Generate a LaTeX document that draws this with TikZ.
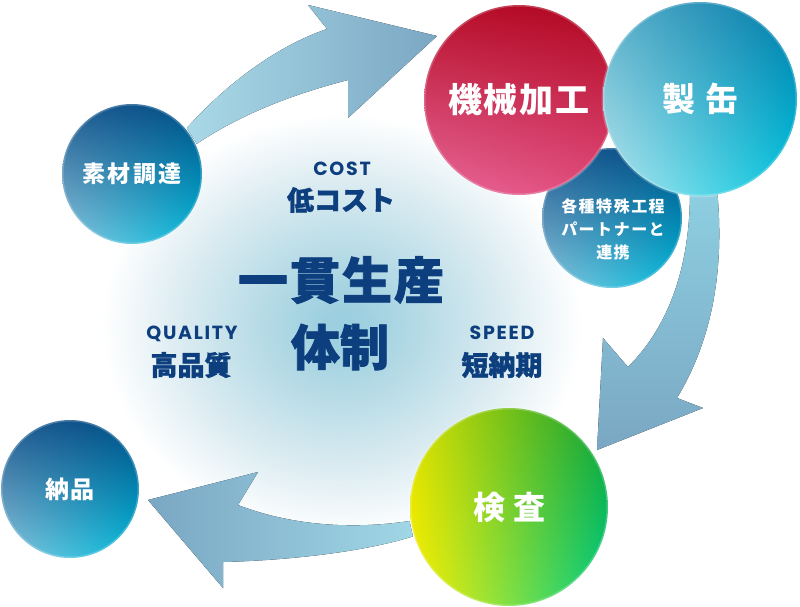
\documentclass[tikz,border=0pt]{standalone}
\usepackage{fontspec}
\newfontfamily\cjk{Noto Sans CJK JP}
\newfontfamily\cjkh{Noto Sans CJK JP}[FakeBold=1.5]
\newfontfamily\pop{Poppins}[LetterSpace=9]
\usetikzlibrary{shadings}
\definecolor{navy}{HTML}{0D3F7F}
\definecolor{glowA}{HTML}{9CCFDF}
\definecolor{glowB}{HTML}{B6DBE6}
\definecolor{glowC}{HTML}{DAEBF1}
\pgfdeclareradialshading{glow}{\pgfpoint{0bp}{0bp}}{color(0bp)=(glowA); color(0.8bp)=(glowA); color(4bp)=(glowB); color(8bp)=(glowC); color(12bp)=(white); color(50bp)=(white)}
\tikzset{
  ball/.style={circle, inner sep=0pt, draw=white, draw opacity=.22, line width=3pt, text=white, font=\cjk\bfseries},
  bluegrad/.style={upper left={rgb,255:red,31;green,90;blue,144}, upper right={rgb,255:red,0;green,76;blue,132}, lower left={rgb,255:red,140;green,196;blue,220}, lower right={rgb,255:red,0;green,188;blue,220}},
  redgrad/.style={upper left={rgb,255:red,184;green,16;blue,44}, upper right={rgb,255:red,176;green,6;blue,32}, lower left={rgb,255:red,232;green,104;blue,154}, lower right={rgb,255:red,224;green,74;blue,122}},
  cyangrad/.style={upper left={rgb,255:red,90;green,176;blue,202}, upper right={rgb,255:red,0;green,120;blue,168}, lower left={rgb,255:red,184;green,230;blue,238}, lower right={rgb,255:red,0;green,200;blue,224}},
  greengrad/.style={upper left={rgb,255:red,216;green,224;blue,0}, upper right={rgb,255:red,16;green,160;blue,48}, lower left={rgb,255:red,255;green,240;blue,0}, lower right={rgb,255:red,0;green,208;blue,136}},
  bigarrow/.style={draw=none},
  navytext/.style={text=navy, inner sep=0pt},
  latin/.style={navytext, anchor=base, font=\pop\bfseries\fontsize{19}{21}\selectfont},
}
\begin{document}
\begin{tikzpicture}[x=1pt,y=-1pt]
\useasboundingbox (0,0) rectangle (800,606);
% central glow
\begin{scope}
\clip (0,0) rectangle (800,606);
\fill[shading=glow] (-158,-115) rectangle (842,765);
\end{scope}

% circles (nodes)
\node[ball, bluegrad, minimum size=140pt, font=\cjk\bfseries\fontsize{23}{25}\selectfont] (sozai) at (132,174) {素\kern2.5pt 材\kern2.5pt 調\kern2.5pt 達};
\node[ball, bluegrad, minimum size=138pt, font=\cjk\bfseries\fontsize{24}{26}\selectfont] (noki) at (70,489) {納\kern1pt 品};
\node[ball, greengrad, minimum size=198pt, font=\cjk\bfseries\fontsize{32}{34}\selectfont] (kensa) at (509,507) {検\kern8pt 査};

% big arrows
\fill[bigarrow, shading=axis, left color={rgb,255:red,169;green,217;blue,231}, middle color={rgb,255:red,125;green,197;blue,220}, right color={rgb,255:red,123;green,167;blue,195}]
  (sozai.40) .. controls (230,80) and (280,45) .. (327,29) -- (308,5) -- (437,36) -- (348,118) -- (348,80) .. controls (290,95) and (240,115) .. (sozai.25) -- cycle;
\fill[bigarrow, shading=axis, left color={rgb,255:red,122;green,167;blue,195}, middle color={rgb,255:red,127;green,198;blue,220}, right color={rgb,255:red,160;green,214;blue,230}]
  (kensa.188) .. controls (350,530) and (290,525) .. (238,505) -- (258,472) -- (148,500) -- (223,588) -- (223,562) .. controls (300,560) and (370,550) .. (kensa.197) -- cycle;

\node[ball, bluegrad, minimum size=140pt] (kakushu) at (612,218) {};
\node[text=white, font=\cjk\bfseries\fontsize{16}{23}\selectfont, align=center, inner sep=0pt] (kakushuT) at (613,229)
  {各\kern1.5pt 種\kern1.5pt 特\kern1.5pt 殊\kern1.5pt 工\kern1.5pt 程\\パ\kern1.5pt ー\kern1.5pt ト\kern1.5pt ナ\kern1.5pt ー\kern1.5pt と\\連\kern1.5pt 携};
\node[ball, redgrad, minimum size=190pt, font=\cjk\bfseries\fontsize{34}{36}\selectfont] (kikai) at (519,100) {機\kern2pt 械\kern2pt 加\kern2pt 工};

\coordinate (seikanC) at (700,99);
\fill[bigarrow, shading=axis, top color={rgb,255:red,142;green,207;blue,225}, bottom color={rgb,255:red,122;green,167;blue,195}]
  ([shift={(17pt,-90pt)}]seikanC) .. controls (725,270) and (712,340) .. (677,398) -- (703,408) -- (597,450) -- (603,338) -- (628,367) .. controls (670,325) and (690,265) .. ([shift={(-10pt,-92pt)}]seikanC) -- cycle;
\node[ball, cyangrad, minimum size=194pt, font=\cjk\bfseries\fontsize{33}{35}\selectfont] (seikan) at (seikanC) {製\kern10pt 缶};

% texts
\node[latin] (cost) at (342,175) {COST};
\node[navytext, font=\cjkh\bfseries\fontsize{27}{29}\selectfont] (lowcost) at (341,200) {低コスト};
\node[navytext, font=\cjkh\bfseries\fontsize{50}{52}\selectfont] (ikkan) at (341,280) {一\kern2pt 貫\kern2pt 生\kern2pt 産};
\node[navytext, font=\cjkh\bfseries\fontsize{49}{51}\selectfont] (taisei) at (340,347) {体制};
\node[latin] (quality) at (192,339) {QUALITY};
\node[navytext, font=\cjkh\bfseries\fontsize{27}{29}\selectfont] (hq) at (191,365) {高品質};
\node[latin] (speed) at (502,339) {SPEED};
\node[navytext, font=\cjkh\bfseries\fontsize{27}{29}\selectfont] (short) at (502,365) {短納期};
\end{tikzpicture}
\end{document}
